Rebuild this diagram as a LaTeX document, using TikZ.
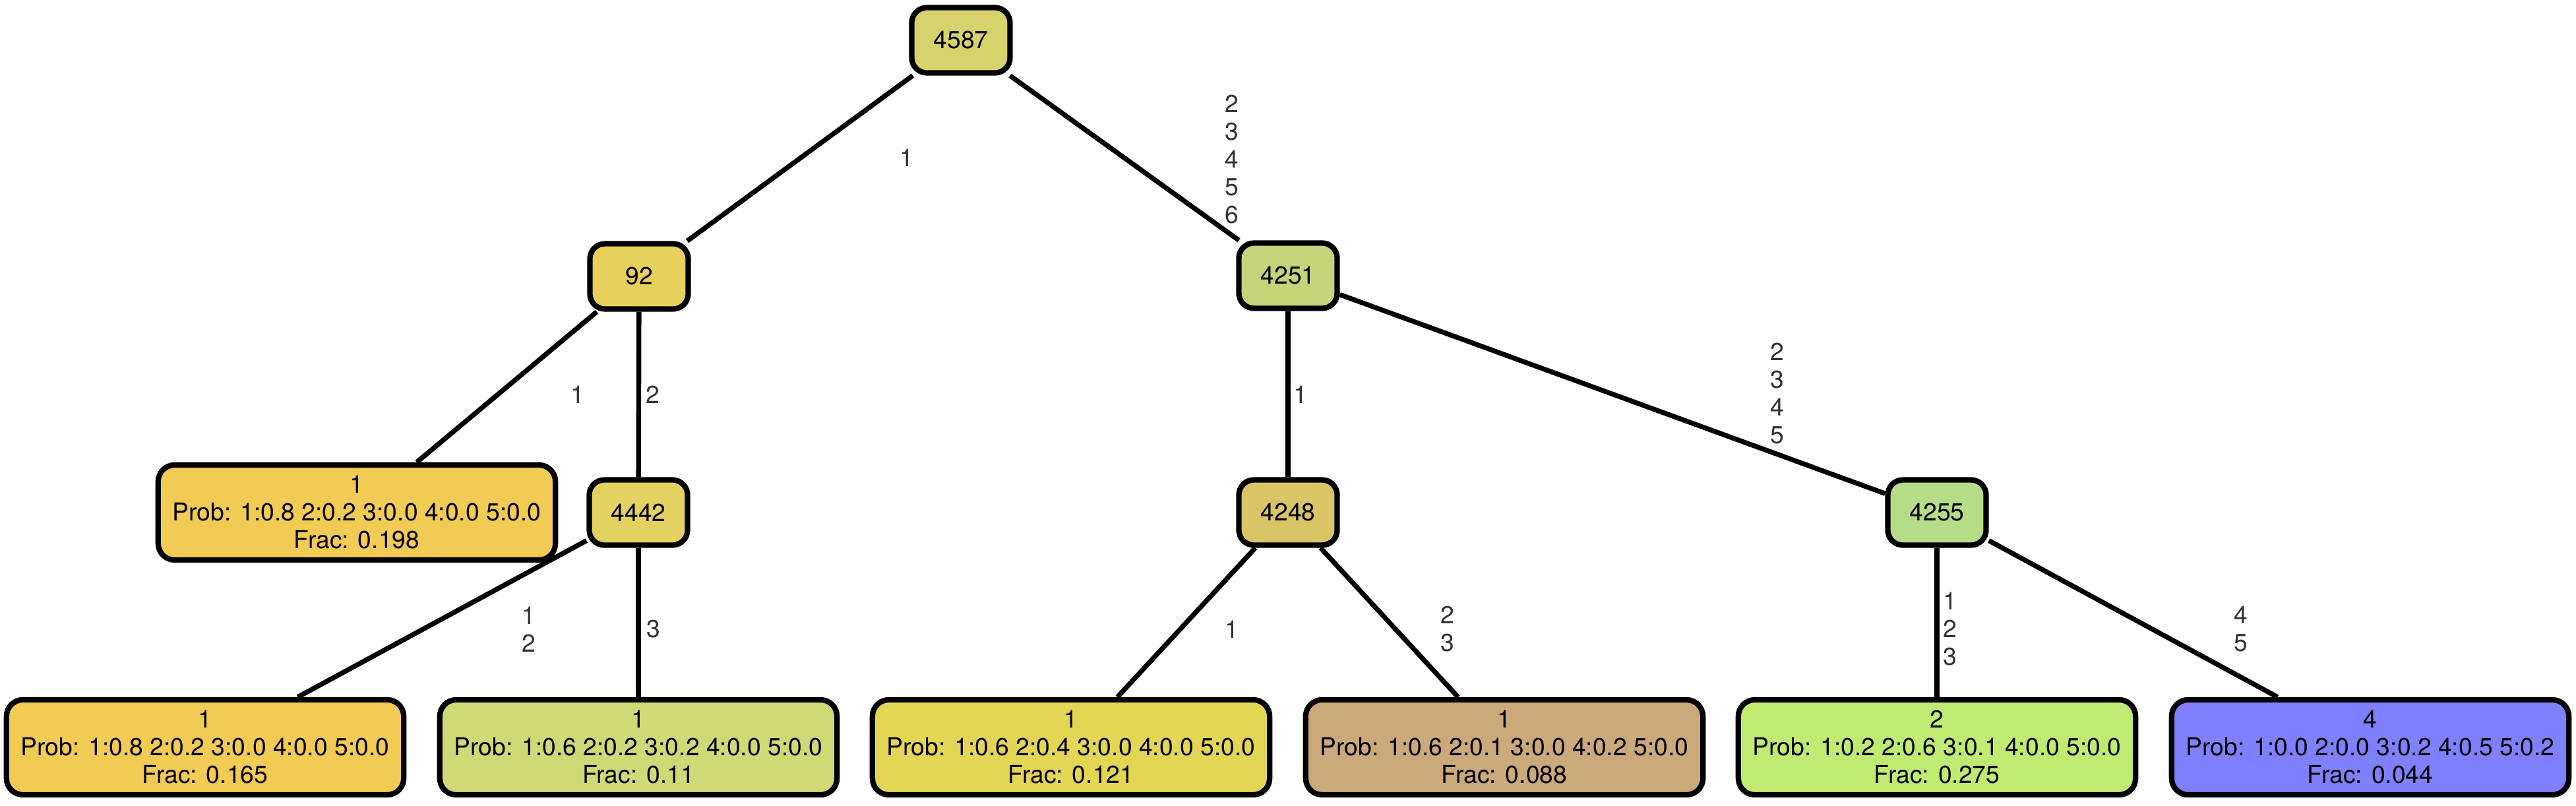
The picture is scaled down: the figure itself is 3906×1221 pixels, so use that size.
\documentclass[tikz,border=0pt]{standalone}
\usepackage{fontspec}
\setmainfont{TeX Gyre Heros}
\usepackage{tikz}
\usetikzlibrary{positioning}
\definecolor{c4587}{HTML}{D5D36B}
\definecolor{c92}{HTML}{E8D05C}
\definecolor{c4251}{HTML}{C5D47A}
\definecolor{c4442}{HTML}{E4D260}
\definecolor{c4248}{HTML}{D9C565}
\definecolor{c4255}{HTML}{B6DC88}
\definecolor{cyel}{HTML}{F2CB54}
\definecolor{cpale}{HTML}{CFDA76}
\definecolor{clem}{HTML}{E3D654}
\definecolor{ctan}{HTML}{CBA97B}
\definecolor{clime}{HTML}{C1EA72}
\definecolor{cblue}{HTML}{8080FF}
\definecolor{labgray}{HTML}{333333}

\begin{document}
\begin{tikzpicture}[x=0.01cm, y=-0.01cm, split/.style={rectangle, draw, rounded corners=0.23cm, line width=2.35pt, minimum width=1.49cm, minimum height=0.99cm, inner sep=0pt, font=\fontsize{10.6}{11.95}\selectfont}, leaf/.style={split, rounded corners=0.25cm, minimum width=6.02cm, minimum height=1.44cm, align=center}, edge/.style={line width=2.1pt}, lab/.style={align=center, inner sep=0pt, text=labgray, font=\fontsize{10.6}{11.95}\selectfont}]
\useasboundingbox (0,0) rectangle (3906,1221);
\node [split, fill=c4587] (n4587) at (1457,61) {4587};
\node [split, fill=c92] (n92) at (969,419) {92};
\node [split, fill=c4251] (n4251) at (1953,418) {4251};
\node [split, fill=c4442] (n4442) at (968,777) {4442};
\node [split, fill=c4248] (n4248) at (1953,777) {4248};
\node [split, fill=c4255] (n4255) at (2937,777) {4255};
\node [leaf, fill=cyel] (lf198) at (541,777) {1\\Prob: 1:0.8 2:0.2 3:0.0 4:0.0 5:0.0\\Frac: 0.198};
\node [leaf, fill=cyel] (lf165) at (311,1133) {1\\Prob: 1:0.8 2:0.2 3:0.0 4:0.0 5:0.0\\Frac: 0.165};
\node [leaf, fill=cpale] (lf110) at (968,1133) {1\\Prob: 1:0.6 2:0.2 3:0.2 4:0.0 5:0.0\\Frac: 0.11};
\node [leaf, fill=clem] (lf121) at (1624,1133) {1\\Prob: 1:0.6 2:0.4 3:0.0 4:0.0 5:0.0\\Frac: 0.121};
\node [leaf, fill=ctan] (lf088) at (2281,1133) {1\\Prob: 1:0.6 2:0.1 3:0.0 4:0.2 5:0.0\\Frac: 0.088};
\node [leaf, fill=clime] (lf275) at (2937,1133) {2\\Prob: 1:0.2 2:0.6 3:0.1 4:0.0 5:0.0\\Frac: 0.275};
\node [leaf, fill=cblue] (lf044) at (3594,1133) {4\\Prob: 1:0.0 2:0.0 3:0.2 4:0.5 5:0.2\\Frac: 0.044};
\draw [edge] (n4587) -- (n92);
\draw [edge] (n4587) -- (n4251);
\draw [edge] (n92) -- (lf198);
\draw [edge] (n92) -- (n4442);
\draw [edge] (n4442) -- (lf165);
\draw [edge] (n4442) -- (lf110);
\draw [edge] (n4251) -- (n4248);
\draw [edge] (n4251) -- (n4255);
\draw [edge] (n4248) -- (lf121);
\draw [edge] (n4248) -- (lf088);
\draw [edge] (n4255) -- (lf275);
\draw [edge] (n4255) -- (lf044);
\node [lab] (e4587a) at (1375,239) {1};
\node [lab] (e4587b) at (1868,242) {2\\3\\4\\5\\6};
\node [lab] (e92a) at (876,598) {1};
\node [lab] (e92b) at (990,598) {2};
\node [lab] (e4442a) at (802,954) {1\\2};
\node [lab] (e4442b) at (991,954) {3};
\node [lab] (e4251a) at (1972,598) {1};
\node [lab] (e4251b) at (2695,597) {2\\3\\4\\5};
\node [lab] (e4248a) at (1868,954) {1};
\node [lab] (e4248b) at (2195,954) {2\\3};
\node [lab] (e4255a) at (2957,954) {1\\2\\3};
\node [lab] (e4255b) at (3398,954) {4\\5};
\end{tikzpicture}
\end{document}
